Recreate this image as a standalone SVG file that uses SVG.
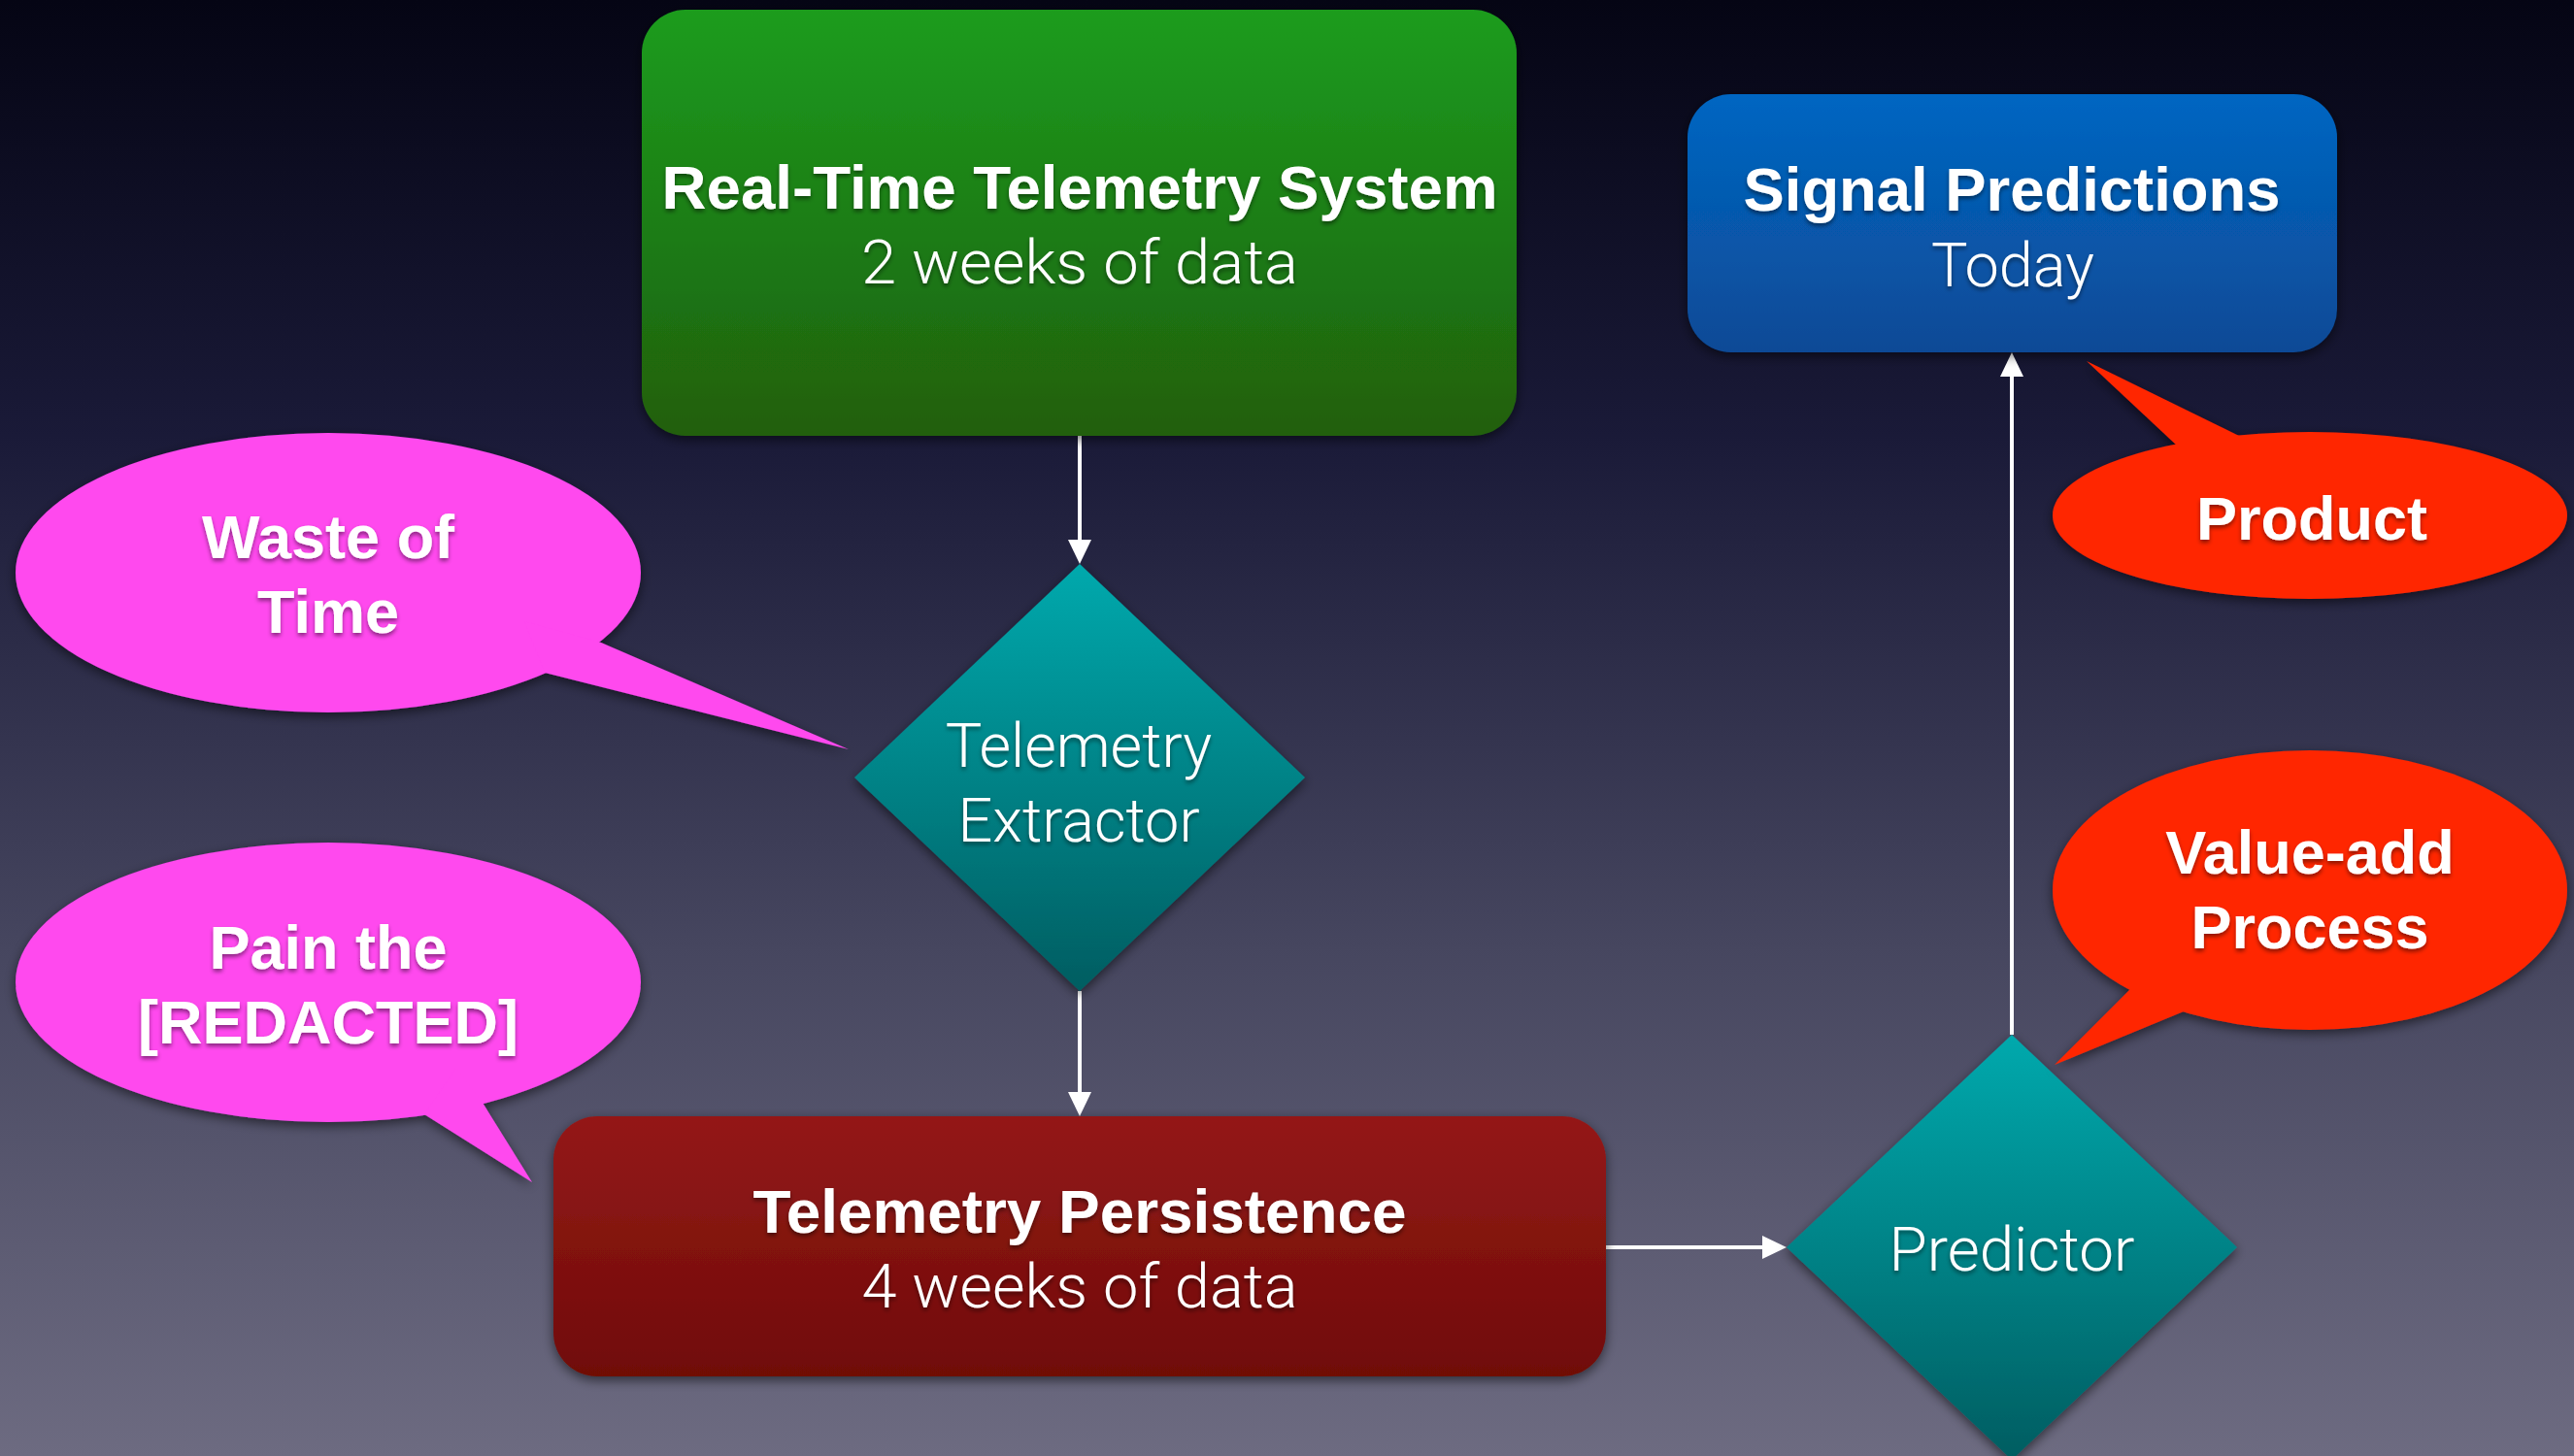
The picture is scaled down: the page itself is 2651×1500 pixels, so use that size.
<svg xmlns="http://www.w3.org/2000/svg" width="2651" height="1500" viewBox="0 0 2651 1500">
  <defs>
    <linearGradient id="bg" x1="0" y1="0" x2="0" y2="1">
      <stop offset="0" stop-color="#050514"/>
      <stop offset="0.3" stop-color="#1a1a38"/>
      <stop offset="0.65" stop-color="#46465f"/>
      <stop offset="1" stop-color="#6d6b81"/>
    </linearGradient>
    <linearGradient id="gGreen" x1="0" y1="0" x2="0" y2="1">
      <stop offset="0" stop-color="#1a9c1e"/>
      <stop offset="1" stop-color="#215f0d"/>
    </linearGradient>
    <linearGradient id="gBlue" x1="0" y1="0" x2="0" y2="1">
      <stop offset="0" stop-color="#0266c2"/>
      <stop offset="1" stop-color="#0b4a96"/>
    </linearGradient>
    <linearGradient id="gRed" x1="0" y1="0" x2="0" y2="1">
      <stop offset="0" stop-color="#941919"/>
      <stop offset="1" stop-color="#700b06"/>
    </linearGradient>
    <linearGradient id="gTeal" x1="0" y1="0" x2="0" y2="1">
      <stop offset="0" stop-color="#01a9ad"/>
      <stop offset="1" stop-color="#005d61"/>
    </linearGradient>
    <filter id="shadow" x="-10%" y="-10%" width="120%" height="125%">
      <feDropShadow dx="0" dy="4" stdDeviation="6" flood-color="#000" flood-opacity="0.55"/>
    </filter>
    <filter id="tshadow" x="-5%" y="-20%" width="110%" height="150%">
      <feDropShadow dx="0" dy="3" stdDeviation="2" flood-color="#000" flood-opacity="0.45"/>
    </filter>
    <marker id="arrow" viewBox="0 0 25 24" refX="0" refY="12" markerWidth="25" markerHeight="24" markerUnits="userSpaceOnUse" orient="auto">
      <path d="M0,0 L25,12 L0,24 Z" fill="#ffffff"/>
    </marker>
    <style>
      .bold { font-family: "Liberation Sans", Arial, Helvetica, sans-serif; font-weight: 700; font-size: 63px; fill: #ffffff; text-anchor: middle; }
      .light { font-family: Roboto, "Open Sans", "Liberation Sans", sans-serif; font-weight: 300; font-size: 63px; fill: #ffffff; text-anchor: middle; }
      .label { filter: url(#tshadow); }
      .conn { stroke: #ffffff; stroke-width: 4; fill: none; marker-end: url(#arrow); }
      .pink { fill: #ff48ee; }
      .orange { fill: #ff2600; }
    </style>
  </defs>

  <!-- backdrop -->
  <rect x="0" y="0" width="2651" height="1500" fill="url(#bg)"/>

  <!-- connectors -->
  <g id="connectors">
    <path class="conn" d="M1112,449 L1112,556"/>
    <path class="conn" d="M1112,1021 L1112,1125"/>
    <path class="conn" d="M1654,1285 L1815,1285"/>
    <path class="conn" d="M2072,1066 L2072,388"/>
  </g>

  <!-- process nodes -->
  <g id="node-realtime">
    <rect x="661" y="10" width="901" height="439" rx="45" ry="45" fill="url(#gGreen)" filter="url(#shadow)"/>
    <g class="label">
      <text class="bold" x="1112" y="215" textLength="861" lengthAdjust="spacingAndGlyphs">Real-Time Telemetry System</text>
      <text class="light" x="1112" y="292" textLength="450" lengthAdjust="spacingAndGlyphs">2 weeks of data</text>
    </g>
  </g>

  <g id="node-signal">
    <rect x="1738" y="97" width="669" height="266" rx="45" ry="45" fill="url(#gBlue)" filter="url(#shadow)"/>
    <g class="label">
      <text class="bold" x="2072" y="217" textLength="553" lengthAdjust="spacingAndGlyphs">Signal Predictions</text>
      <text class="light" x="2073" y="295">Today</text>
    </g>
  </g>

  <g id="node-extractor">
    <polygon points="1112,581 1344,801 1112,1021 880,801" fill="url(#gTeal)" filter="url(#shadow)"/>
    <g class="label">
      <text class="light" x="1111" y="790">Telemetry</text>
      <text class="light" x="1111" y="867">Extractor</text>
    </g>
  </g>

  <g id="node-persistence">
    <rect x="570" y="1150" width="1084" height="268" rx="45" ry="45" fill="url(#gRed)" filter="url(#shadow)"/>
    <g class="label">
      <text class="bold" x="1112" y="1270" textLength="673" lengthAdjust="spacingAndGlyphs">Telemetry Persistence</text>
      <text class="light" x="1112" y="1347" textLength="449" lengthAdjust="spacingAndGlyphs">4 weeks of data</text>
    </g>
  </g>

  <g id="node-predictor">
    <polygon points="2072,1066 2304,1285 2072,1504 1840,1285" fill="url(#gTeal)" filter="url(#shadow)"/>
    <g class="label">
      <text class="light" x="2072" y="1309" textLength="253" lengthAdjust="spacingAndGlyphs">Predictor</text>
    </g>
  </g>

  <!-- callouts -->
  <g id="callout-waste">
    <g class="pink" filter="url(#shadow)">
      <ellipse cx="338" cy="590" rx="322" ry="144"/>
      <polygon points="619,662 874,772 561,693 540,640"/>
    </g>
    <g class="label">
      <text class="bold" x="338" y="575">Waste of</text>
      <text class="bold" x="338" y="652">Time</text>
    </g>
  </g>

  <g id="callout-pain">
    <g class="pink" filter="url(#shadow)">
      <ellipse cx="338" cy="1012" rx="322" ry="144"/>
      <polygon points="497,1136 548,1218 437,1148 470,1100"/>
    </g>
    <g class="label">
      <text class="bold" x="338" y="998">Pain the</text>
      <text class="bold" x="338" y="1075">[REDACTED]</text>
    </g>
  </g>

  <g id="callout-product">
    <g class="orange" filter="url(#shadow)">
      <ellipse cx="2379" cy="531" rx="265" ry="86"/>
      <polygon points="2241,458 2149,372 2306,449 2280,490"/>
    </g>
    <g class="label">
      <text class="bold" x="2381" y="556">Product</text>
    </g>
  </g>

  <g id="callout-valueadd">
    <g class="orange" filter="url(#shadow)">
      <ellipse cx="2379" cy="917" rx="265" ry="144"/>
      <polygon points="2194,1019 2116,1097 2249,1042 2240,1000"/>
    </g>
    <g class="label">
      <text class="bold" x="2379" y="900">Value-add</text>
      <text class="bold" x="2379" y="977">Process</text>
    </g>
  </g>
</svg>
